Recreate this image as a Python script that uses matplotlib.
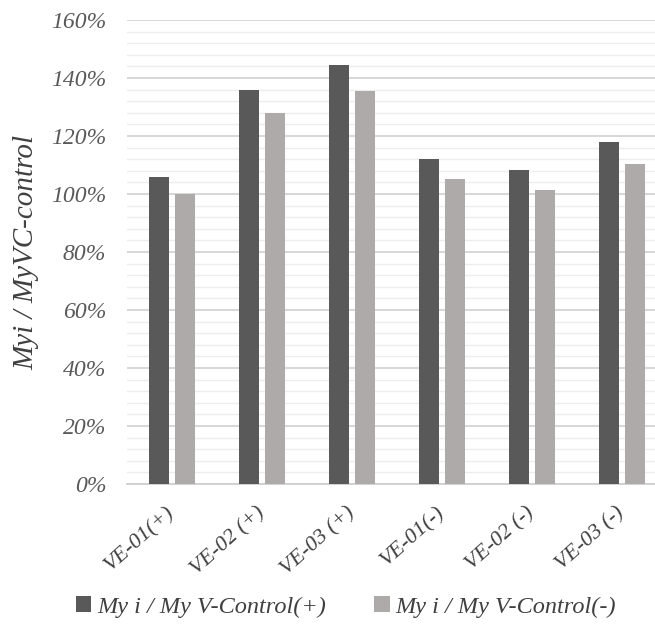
import matplotlib
matplotlib.use("Agg")
import matplotlib.pyplot as plt
import numpy as np
from matplotlib.ticker import MultipleLocator, FuncFormatter

categories = ["VE-01(+)", "VE-02 (+)", "VE-03 (+)", "VE-01(-)", "VE-02 (-)", "VE-03 (-)"]
series_plus = [106, 136, 144.5, 112, 108.3, 118]
series_minus = [100, 127.8, 135.5, 105, 101.5, 110.5]
series_names = ["My i / My V-Control(+)", "My i / My V-Control(-)"]
ylabel = "Myi / MyVC-control"

plt.rcParams['font.family'] = ['Liberation Serif', 'DejaVu Serif']
plt.rcParams['font.style'] = 'italic'

fig = plt.figure(figsize=(6.55, 6.25), dpi=100)
W, H = 655, 625
ax = fig.add_axes([127 / W, (H - 484) / H, 540 / W, 464 / H])

x = np.arange(len(categories))
bw = 0.222
off = 0.145
ax.bar(x - off, series_plus, width=bw, color="#595959", label=series_names[0], zorder=3)
ax.bar(x + off, series_minus, width=bw, color="#aeaaaa", label=series_names[1], zorder=3)

ax.set_xlim(-0.5, len(categories) - 0.5)
ax.set_ylim(0, 160)
ax.yaxis.set_major_locator(MultipleLocator(20))
ax.yaxis.set_minor_locator(MultipleLocator(4))
ax.yaxis.set_major_formatter(FuncFormatter(lambda v, p: f"{int(round(v))}%"))
ax.grid(axis="y", which="major", color="#d4d4d4", linewidth=1.3, zorder=0)
ax.grid(axis="y", which="minor", color="#ededed", linewidth=1.0, zorder=0)
ax.tick_params(axis="y", which="both", length=0, labelsize=17, colors="#595959", pad=15)
ax.tick_params(axis="x", length=0, labelsize=16, colors="#404040", pad=19)
ax.set_xticks(x)
ax.set_xticklabels(categories, rotation=42, ha="right", va="center", rotation_mode="anchor")
for s in ["top", "right", "left"]:
    ax.spines[s].set_visible(False)
ax.spines["bottom"].set_color("#cfcfcf")
ax.spines["bottom"].set_linewidth(1.3)

fig.text(26 / W, (H - 252) / H, ylabel, rotation=90, ha="center", va="center",
         fontsize=21, color="#404040")

leg = fig.legend(loc="center", bbox_to_anchor=(346 / W, (H - 607) / H), ncol=2,
                 frameon=False, fontsize=17.5, handlelength=0.62, handleheight=0.62,
                 handletextpad=0.25, columnspacing=2.0)
for t in leg.get_texts():
    t.set_color("#404040")

fig.savefig("out.png", dpi=100)
